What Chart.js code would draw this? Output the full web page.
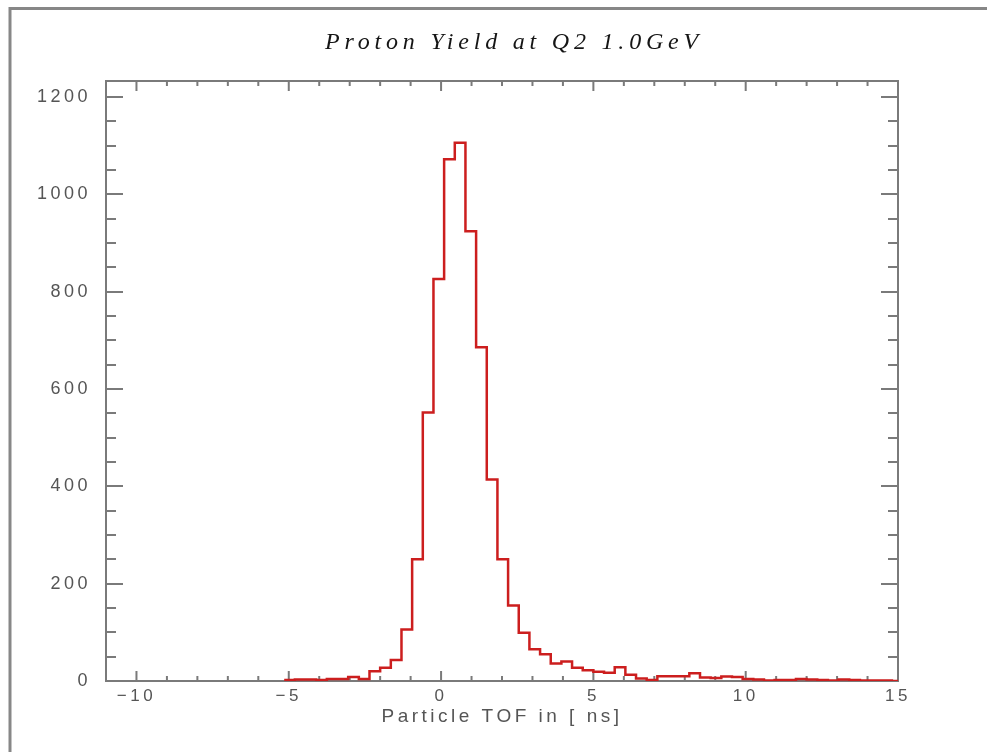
<!DOCTYPE html>
<html>
<head>
<meta charset="utf-8">
<title>Proton Yield at Q2 1.0GeV</title>
<script src="https://cdn.jsdelivr.net/npm/chart.js@4/dist/chart.umd.min.js"></script>
<style>
  html, body { margin: 0; padding: 0; background: #fff; }
  canvas { display: block; }
</style>
</head>
<body>
<canvas id="tofChart" width="987" height="752"></canvas>
<script>
// Left bin edges of the TOF histogram (ns); the last entry closes the final bin
const binEdges = [
  -5.15, -4.8, -4.45, -4.1, -3.75, -3.4, -3.05, -2.7, -2.35, -2.0,
  -1.65, -1.3, -0.95, -0.6, -0.25, 0.1, 0.45, 0.8, 1.15, 1.5,
  1.85, 2.2, 2.55, 2.9, 3.25, 3.6, 3.95, 4.3, 4.65, 5.0,
  5.35, 5.7, 6.05, 6.4, 6.75, 7.1, 7.45, 7.8, 8.15, 8.5,
  8.85, 9.2, 9.55, 9.9, 10.25, 10.6, 10.95, 11.3, 11.65, 12.0,
  12.35, 12.7, 13.05, 13.4, 13.75, 14.1, 14.45, 14.8, 15.15
];

// Proton counts per bin
const protonCounts = [
  2, 3, 3, 2, 4, 4, 8, 4, 20, 27,
  43, 106, 250, 552, 826, 1072, 1106, 924, 686, 414,
  250, 155, 99, 65, 55, 36, 40, 27, 22, 19,
  17, 28, 13, 5, 2, 10, 10, 10, 16, 7,
  6, 9, 8, 4, 3, 1, 2, 2, 4, 3,
  2, 1, 3, 2, 1, 1, 1, 0, 0
];

const xTickValues = [-10, -5, 0, 5, 10, 15];
const yTickValues = [0, 200, 400, 600, 800, 1000, 1200];

const chartTitle = 'Proton Yield at Q2 1.0GeV';
const xAxisTitle = 'Particle TOF in [ ns]';

const histPoints = binEdges.map((e, i) => ({ x: e, y: protonCounts[i] }));

// page border, boxed frame with inward ticks, and the italic title
const framePlugin = {
  id: 'framePlugin',
  beforeDraw(chart) {
    const ctx = chart.ctx;
    ctx.letterSpacing = '3.5px';
    ctx.save();
    ctx.strokeStyle = '#878787';
    ctx.lineWidth = 3;
    ctx.beginPath();
    ctx.moveTo(10, 752);
    ctx.lineTo(10, 8.5);
    ctx.lineTo(987, 8.5);
    ctx.stroke();
    ctx.restore();
  },
  beforeDatasetsDraw(chart) {
    const { ctx, chartArea: a, scales: { x, y } } = chart;
    ctx.save();
    ctx.strokeStyle = '#7a7a7a';
    ctx.lineWidth = 2;
    ctx.strokeRect(a.left, a.top, a.right - a.left, a.bottom - a.top);
    ctx.beginPath();
    for (let v = Math.ceil(x.min); v <= x.max; v++) {
      const px = x.getPixelForValue(v);
      const len = v % 5 === 0 ? 10 : 5;
      ctx.moveTo(px, a.bottom); ctx.lineTo(px, a.bottom - len);
      ctx.moveTo(px, a.top); ctx.lineTo(px, a.top + len);
    }
    for (let v = 0; v <= y.max; v += 50) {
      const py = Math.round(y.getPixelForValue(v));
      const len = v % 200 === 0 ? 17 : 10;
      ctx.moveTo(a.left, py); ctx.lineTo(a.left + len, py);
      ctx.moveTo(a.right, py); ctx.lineTo(a.right - len, py);
    }
    ctx.stroke();
    ctx.restore();
  },
  afterDraw(chart) {
    const ctx = chart.ctx;
    ctx.save();
    ctx.letterSpacing = '4.8px';
    ctx.font = 'italic 24px "Liberation Serif"';
    ctx.fillStyle = '#151515';
    ctx.textAlign = 'center';
    ctx.textBaseline = 'middle';
    ctx.fillText(chartTitle, 514, 43);
    ctx.restore();
  }
};

new Chart(document.getElementById('tofChart'), {
  type: 'line',
  data: {
    datasets: [{
      label: 'Proton yield',
      data: histPoints,
      stepped: 'before',
      borderColor: 'rgb(204, 30, 30)',
      borderWidth: 2.5,
      pointRadius: 0,
      fill: false
    }]
  },
  options: {
    responsive: false,
    animation: false,
    layout: { padding: { left: 0, right: 89, top: 81, bottom: 0 } },
    plugins: {
      legend: { display: false },
      tooltip: { enabled: false },
      title: { display: false }
    },
    scales: {
      x: {
        type: 'linear',
        min: -11,
        max: 15,
        grid: { display: false, drawTicks: false },
        border: { display: false },
        afterBuildTicks: s => { s.ticks = xTickValues.map(v => ({ value: v })); },
        afterFit: s => { s.height = 71; },
        ticks: {
          padding: 5,
          color: '#555',
          font: { family: '"Liberation Sans", Arial, sans-serif', size: 17 },
          callback: v => (v < 0 ? '\u2212' + Math.abs(v) : String(v))
        },
        title: {
          display: true,
          text: xAxisTitle,
          color: '#555',
          font: { family: '"Liberation Sans", Arial, sans-serif', size: 19 },
          padding: { top: 0, bottom: 24 }
        }
      },
      y: {
        min: 0,
        max: 1233,
        grid: { display: false, drawTicks: false },
        border: { display: false },
        afterBuildTicks: s => { s.ticks = yTickValues.map(v => ({ value: v })); },
        afterFit: s => { s.width = 106; },
        ticks: {
          padding: 15,
          color: '#555',
          font: { family: '"Liberation Sans", Arial, sans-serif', size: 18 },
          callback: v => String(v)
        }
      }
    }
  },
  plugins: [framePlugin]
});
</script>
</body>
</html>
